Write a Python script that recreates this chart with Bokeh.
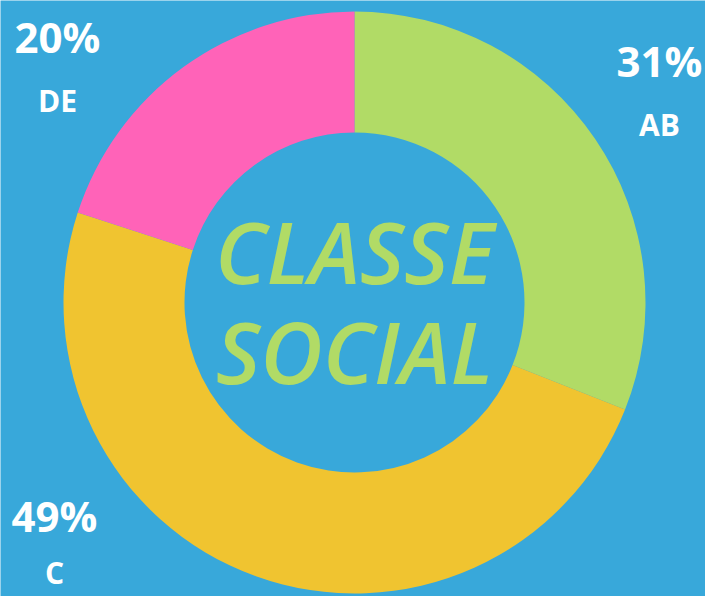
import math
from bokeh.plotting import figure
from bokeh.models import Range1d, ColumnDataSource
from bokeh.core.properties import value
from bokeh.embed import file_html
from bokeh.resources import INLINE

categories = ["AB", "C", "DE"]
shares = [31, 49, 20]
colors = ["#B1DB66", "#F0C430", "#FF63B8"]
center_title = ["CLASSE", "SOCIAL"]

W, H = 705, 596
BG = "#38A8DA"

p = figure(width=W, height=H, output_backend="svg", toolbar_location=None,
           x_range=Range1d(0, W), y_range=Range1d(0, H), min_border=0)
p.axis.visible = False
p.grid.visible = False
p.outline_line_color = None
p.background_fill_color = BG
p.border_fill_color = BG

total = sum(shares)
starts, ends = [], []
acc = 0
for s in shares:
    starts.append(math.pi / 2 - 2 * math.pi * acc / total)
    acc += s
    ends.append(math.pi / 2 - 2 * math.pi * acc / total)

cx, cy = 354, H - 302
src = ColumnDataSource(dict(start=starts, end=ends, color=colors))
p.annular_wedge(x=cx, y=cy, inner_radius=170, outer_radius=291,
                start_angle="start", end_angle="end", direction="clock",
                fill_color="color", line_color=None, source=src)

# Percent and category labels (x, percent centre y, category centre y)
label_pos = {"AB": (659, H - 60, H - 124), "C": (54, H - 515, H - 572), "DE": (57, H - 36, H - 100)}
px, py, lx, ly, pt, lt = [], [], [], [], [], []
for c, s in zip(categories, shares):
    x, y1, y2 = label_pos[c]
    px.append(x); py.append(y1); pt.append(f"{s}%")
    lx.append(x); ly.append(y2); lt.append(c)

p.text(x=px, y=py, text=pt, text_align="center", text_baseline="middle",
       text_font=value("Open Sans"), text_font_style="bold",
       text_font_size="42px", text_color="white")
p.text(x=lx, y=ly, text=lt, text_align="center", text_baseline="middle",
       text_font=value("Open Sans"), text_font_style="bold",
       text_font_size="30px", text_color="white")

p.text(x=[cx, cx], y=[H - 250, H - 350], text=center_title, text_align="center",
       text_baseline="middle", text_font=value("Open Sans SemiBold"),
       text_font_style="italic", text_font_size="86px", text_color=colors[0])

open("out.html", "w").write(file_html(p, INLINE))
